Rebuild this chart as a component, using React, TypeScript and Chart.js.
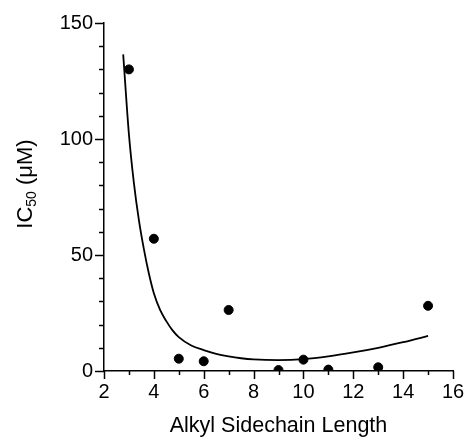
import React, { useEffect, useRef } from "react";
import { Chart, registerables } from "chart.js";

Chart.register(...registerables);

const chainLength = [3, 4, 5, 6, 7, 9, 10, 11, 13, 15];
const ic50 = [130, 57, 5.3, 4.2, 26.3, 0.4, 4.9, 0.6, 1.6, 28.1];

const fitX = [2.77, 3.0, 3.2, 3.4, 3.6, 3.8, 4.0, 4.25, 4.5, 4.75, 5.0, 5.5, 6.0, 6.5, 7.0, 7.5, 8.0, 9.0, 10.0, 11.0, 12.0, 13.0, 14.0, 15.0];
const fitY = [136.5, 102, 81, 65, 52.5, 42, 33.5, 26.3, 21.5, 17.5, 14.6, 11, 9.0, 7.4, 6.3, 5.5, 5.0, 4.7, 5.1, 6.3, 8.0, 10.0, 12.4, 15.1];

const xTicks = [2, 4, 6, 8, 10, 12, 14, 16];
const yTicks = [0, 50, 100, 150];
const xTitle = "Alkyl Sidechain Length";

const FONT = "'Liberation Sans', Arial, Helvetica, sans-serif";

const decorPlugin = {
  id: "decor",
  afterDraw(chart: any) {
    const ctx = chart.ctx;
    const xs = chart.scales.x;
    const ys = chart.scales.y;
    const area = chart.chartArea;
    ctx.save();
    ctx.strokeStyle = "#000";
    ctx.lineWidth = 1.5;
    for (let v = 0; v <= 150; v += 10) {
      const py = Math.round(ys.getPixelForValue(v)) + 0.5;
      const major = yTicks.includes(v);
      ctx.beginPath();
      ctx.moveTo(area.left, py);
      ctx.lineTo(area.left - (major ? 9 : 5), py);
      ctx.stroke();
    }
    for (let v = 2; v <= 16; v += 1) {
      const px = Math.round(xs.getPixelForValue(v)) + 0.5;
      const major = xTicks.includes(v);
      ctx.beginPath();
      ctx.moveTo(px, area.bottom);
      ctx.lineTo(px, area.bottom + (major ? 8 : 4));
      ctx.stroke();
    }
    ctx.fillStyle = "#000";
    ctx.font = `21.5px ${FONT}`;
    ctx.textAlign = "center";
    ctx.textBaseline = "middle";
    ctx.fillText(xTitle, (area.left + area.right) / 2, 426);
    ctx.translate(24, 184);
    ctx.rotate(-Math.PI / 2);
    const big = `22px ${FONT}`;
    const small = `14px ${FONT}`;
    ctx.font = big;
    const w1 = ctx.measureText("IC").width;
    const w3 = ctx.measureText(" (\u03bcM)").width;
    ctx.font = small;
    const w2 = ctx.measureText("50").width;
    const total = w1 + w2 + w3;
    const x0 = -total / 2;
    ctx.textAlign = "left";
    ctx.textBaseline = "alphabetic";
    ctx.font = big;
    ctx.fillText("IC", x0, 8);
    ctx.font = small;
    ctx.fillText("50", x0 + w1, 12);
    ctx.font = big;
    ctx.fillText(" (\u03bcM)", x0 + w1 + w2, 8);
    ctx.restore();
  },
};

export default function App() {
  const ref = useRef<HTMLCanvasElement>(null);
  useEffect(() => {
    const canvas = ref.current!;
    const chart = new Chart(canvas, {
      type: "scatter",
      data: {
        datasets: [
          {
            type: "scatter",
            data: chainLength.map((x, i) => ({ x, y: ic50[i] })),
            backgroundColor: "#000",
            borderColor: "#000",
            pointRadius: 4.5,
            pointHoverRadius: 4.5,
          },
          {
            type: "line",
            data: fitX.map((x, i) => ({ x, y: fitY[i] })),
            borderColor: "#000",
            borderWidth: 1.8,
            pointRadius: 0,
            fill: false,
            tension: 0.4,
            cubicInterpolationMode: "monotone",
          } as any,
        ],
      },
      options: {
        responsive: false,
        animation: false,
        events: [],
        layout: { padding: { left: 0, top: 23, right: 12, bottom: 0 } },
        plugins: { legend: { display: false }, tooltip: { enabled: false } },
        scales: {
          x: {
            type: "linear",
            min: 2,
            max: 16,
            afterFit: (s: any) => { s.height = 66; },
            afterBuildTicks: (s: any) => { s.ticks = xTicks.map((v) => ({ value: v })); },
            ticks: { color: "#000", font: { family: FONT, size: 20 }, padding: 0, autoSkip: false, maxRotation: 0 },
            grid: { drawOnChartArea: false, tickLength: 9, tickColor: "rgba(0,0,0,0)" },
            border: { display: true, color: "#000", width: 1.5 },
          },
          y: {
            type: "linear",
            min: 0,
            max: 150,
            afterFit: (s: any) => { s.width = 104; },
            afterBuildTicks: (s: any) => { s.ticks = yTicks.map((v) => ({ value: v })); },
            ticks: { color: "#000", font: { family: FONT, size: 20 }, padding: 2 },
            grid: { drawOnChartArea: false, tickLength: 9, tickColor: "rgba(0,0,0,0)" },
            border: { display: true, color: "#000", width: 1.5 },
          },
        },
      },
      plugins: [decorPlugin],
    });
    return () => chart.destroy();
  }, []);
  return (
    <div style={{ position: "fixed", left: 0, top: 0, width: 465, height: 437, background: "#fff" }}>
      <canvas ref={ref} width={465} height={437} style={{ width: 465, height: 437 }} />
    </div>
  );
}
